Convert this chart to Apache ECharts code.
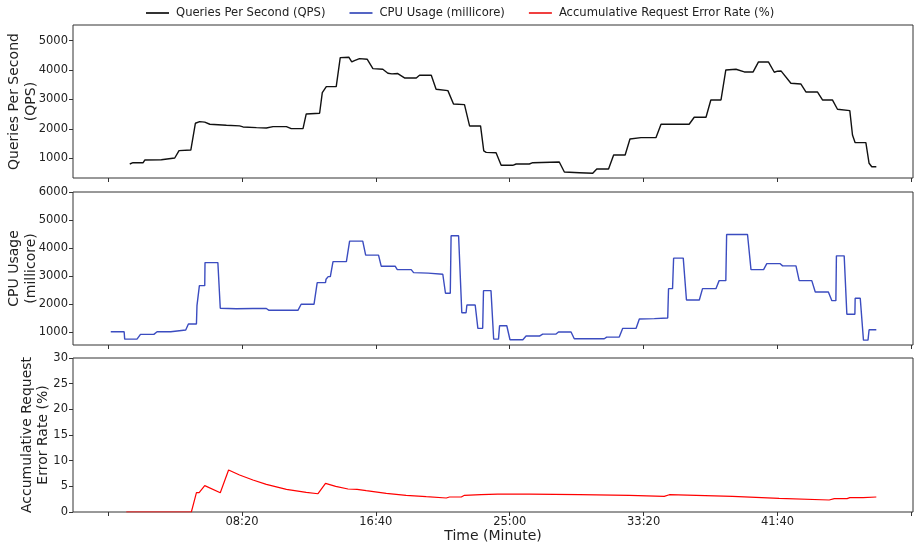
<!DOCTYPE html>
<html>
<head>
<meta charset="utf-8">
<script src="https://cdn.jsdelivr.net/npm/echarts@6/dist/echarts.min.js"></script>
<style>
html,body{margin:0;padding:0;background:#fff;}
#chart{width:916px;height:549px;}
</style>
</head>
<body>
<div id="chart"></div>
<script>
// ---- Data (time in seconds) ----
var seriesNames = ['Queries Per Second (QPS)', 'CPU Usage (millicore)', 'Accumulative Request Error Rate (%)'];

var qpsTime = [81,93,131,137,199,205,249,265,309,326,342,361,380,442,491,504,554,591,616,666,684,728,740,790,800,815,852,867,899,910,920,939,968,989,1026,1045,1060,1082,1107,1151,1163,1207,1225,1269,1290,1331,1350,1391,1403,1412,1449,1468,1511,1524,1573,1586,1685,1704,1760,1810,1825,1869,1888,1931,1949,1990,2046,2065,2170,2189,2233,2251,2289,2307,2345,2376,2409,2429,2466,2488,2500,2513,2550,2587,2606,2649,2668,2705,2724,2770,2780,2790,2830,2842,2852,2869];
var qpsValues = [806,850,850,940,950,1010,1010,1260,1280,2190,2245,2230,2157,2122,2100,2065,2041,2030,2075,2075,2007,2007,2507,2530,3231,3435,3435,4422,4435,4275,4320,4388,4365,4048,4027,3891,3870,3880,3731,3731,3823,3823,3347,3300,2847,2823,2099,2099,1250,1200,1190,762,762,806,806,850,874,534,510,490,636,636,1112,1112,1656,1701,1701,2156,2156,2395,2395,2983,2983,4003,4027,3935,3935,4275,4275,3925,3960,3969,3551,3527,3255,3255,2983,2983,2667,2619,1793,1531,1531,830,714,714];

var cpuTime = [10,60,62,108,121,171,183,234,240,290,300,330,332,338,341,361,362,410,419,479,541,591,601,709,721,769,781,812,814,822,830,840,890,902,951,962,1010,1020,1072,1080,1132,1141,1195,1200,1250,1260,1278,1281,1309,1321,1337,1340,1371,1381,1399,1402,1430,1440,1458,1462,1489,1501,1549,1561,1611,1623,1673,1682,1729,1741,1853,1862,1909,1922,1972,1984,2040,2090,2093,2108,2112,2148,2160,2208,2220,2270,2282,2307,2310,2388,2401,2448,2460,2509,2519,2569,2581,2628,2641,2690,2703,2718,2720,2749,2759,2789,2790,2809,2821,2838,2842,2869];
var cpuValues = [1021,1021,761,761,929,929,1021,1021,1082,1082,1296,1296,1950,1950,2664,2664,3486,3486,1857,1840,1850,1850,1786,1786,2000,2000,2771,2771,2893,2986,2986,3521,3521,4250,4250,3750,3750,3357,3357,3236,3236,3129,3110,3071,3071,2393,2393,4439,4439,1700,1700,1975,1975,1143,1143,2486,2486,761,761,1236,1236,736,736,868,868,939,939,1011,1011,771,771,832,832,1143,1143,1475,1490,1511,2557,2557,3643,3643,2154,2154,2557,2557,2843,2843,4486,4486,3236,3236,3450,3450,3368,3368,2843,2843,2439,2439,2129,2129,3725,3725,1643,1643,2214,2214,725,725,1093,1093];

var errTime = [68,311,330,340,361,419,450,491,541,591,666,740,784,812,850,896,930,964,1039,1113,1188,1263,1275,1319,1331,1393,1455,1573,1760,1947,2077,2096,2196,2332,2506,2693,2712,2760,2770,2820,2869];
var errValues = [0,0,3.76,3.76,5.13,3.76,8.18,7.2,6.23,5.39,4.42,3.83,3.56,5.58,5.0,4.48,4.4,4.15,3.64,3.25,2.98,2.73,2.92,2.92,3.25,3.37,3.5,3.5,3.37,3.25,3.05,3.37,3.25,3.05,2.67,2.34,2.6,2.6,2.79,2.79,2.92];

var xTickValues = [0,500,1000,1500,2000,2500,3000];
var xLabelValues = [500,1000,1500,2000,2500];
var qpsTicks = [1000,2000,3000,4000,5000];
var cpuTicks = [1000,2000,3000,4000,5000,6000];
var errTicks = [0,5,10,15,20,25,30];

function pairs(t, v){ var o=[]; for(var i=0;i<t.length;i++) o.push([t[i], v[i]]); return o; }
function pad(n){ return (n<10?'0':'')+n; }
function fmtTime(v){ var m=Math.floor(v/60), s=Math.round(v-m*60); return pad(m)+':'+pad(s); }
function fmtNum(v){ return String(v); }

var FONT = 'DejaVu Sans';
var gridBase = {left:73, width:840, show:true, borderColor:'#333', borderWidth:1, containLabel:false, outerBoundsMode:'none'};
var grids = [
  Object.assign({top:25, height:153}, gridBase),
  Object.assign({top:192, height:153}, gridBase),
  Object.assign({top:358, height:154}, gridBase)
];

function makeX(i){
  var ax = {
    type:'value', gridIndex:i, min:-131, max:3006,
    axisLine:{show:false, onZero:false},
    splitLine:{show:false},
    axisTick:{show:true, length:4, lineStyle:{color:'#333'}, customValues:xTickValues},
    axisLabel:{show:i===2, customValues:xLabelValues, formatter:fmtTime, color:'#222', fontFamily:FONT, fontSize:11.5, margin:4}
  };
  if(i===2){
    ax.name = 'Time (Minute)';
    ax.nameLocation = 'middle';
    ax.nameGap = 17;
    ax.nameMoveOverlap = false;
    ax.nameTextStyle = {fontFamily:FONT, fontSize:14, color:'#222'};
  }
  return ax;
}
function makeY(i, min, max, ticks, name, gap, lh){
  return {
    type:'value', gridIndex:i, min:min, max:max,
    axisLine:{show:false, onZero:false},
    splitLine:{show:false},
    axisTick:{show:true, length:4, lineStyle:{color:'#333'}, customValues:ticks},
    axisLabel:{customValues:ticks, formatter:fmtNum, color:'#222', fontFamily:FONT, fontSize:11.5, margin:5},
    name:name, nameLocation:'middle', nameRotate:90, nameGap:gap, nameMoveOverlap:false,
    nameTextStyle:{fontFamily:FONT, fontSize:14, color:'#222', lineHeight:lh, align:'center'}
  };
}

var option = {
  animation:false,
  backgroundColor:'#fff',
  legend:{
    top:7, left:146, padding:0, icon:'rect', itemWidth:23, itemHeight:2, itemGap:24,
    textStyle:{fontFamily:FONT, fontSize:11.6, color:'#222', padding:[0,0,0,2]},
    data:seriesNames
  },
  grid:grids,
  xAxis:[makeX(0), makeX(1), makeX(2)],
  yAxis:[
    makeY(0, 330, 5530, qpsTicks, 'Queries Per Second\n(QPS)', 33, 17),
    makeY(1, 550, 6000, cpuTicks, 'CPU Usage\n(millicore)', 33, 17),
    makeY(2, 0, 30, errTicks, 'Accumulative Request\nError Rate (%)', 21, 16.5)
  ],
  series:[
    {name:seriesNames[0], type:'line', xAxisIndex:0, yAxisIndex:0, symbol:'none', data:pairs(qpsTime,qpsValues), lineStyle:{color:'#111', width:1.4}, itemStyle:{color:'#333'}},
    {name:seriesNames[1], type:'line', xAxisIndex:1, yAxisIndex:1, symbol:'none', data:pairs(cpuTime,cpuValues), lineStyle:{color:'#3b4cc0', width:1.4}, itemStyle:{color:'#5565c4'}},
    {name:seriesNames[2], type:'line', xAxisIndex:2, yAxisIndex:2, symbol:'none', data:pairs(errTime,errValues), lineStyle:{color:'#ff0000', width:1.2}, itemStyle:{color:'#f04040'}}
  ]
};
var chart = echarts.init(document.getElementById('chart'), null, {renderer:'canvas'});
chart.setOption(option);
</script>
</body>
</html>
